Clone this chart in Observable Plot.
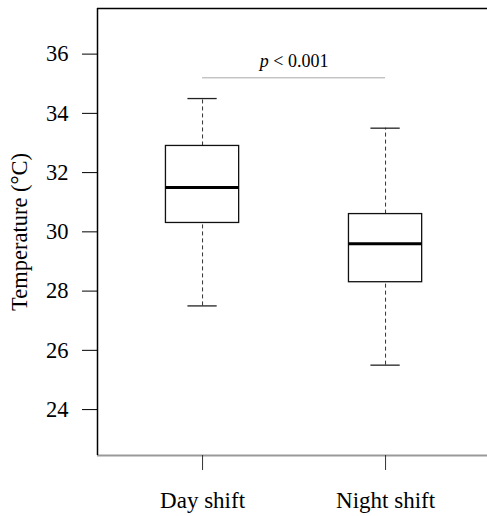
<!DOCTYPE html>
<html>
<head>
<meta charset="utf-8">
<script src="https://cdn.jsdelivr.net/npm/d3@7"></script>
<script src="https://cdn.jsdelivr.net/npm/@observablehq/plot@0.6"></script>
<style>
  html, body { margin: 0; padding: 0; background: #fff; }
  svg { display: block; }
  svg text { font-family: "Liberation Serif", "Times New Roman", Times, serif !important; }
</style>
</head>
<body>
<div id="chart"></div>
<script>
// Data
const categories = ["Day shift", "Night shift"];
const whiskerLow  = [27.5, 25.5];
const q1          = [30.3, 28.3];
const median      = [31.5, 29.6];
const q3          = [32.9, 30.6];
const whiskerHigh = [34.5, 33.5];
const yTicks = [24, 26, 28, 30, 32, 34, 36];
const yDomain = [22.45, 37.54];
const xDomain = [0.426, 2.557];
const pLabel = "p < 0.001";
const pLineY = 35.2;
const yLabel = "Temperature (°C)";

const data = categories.map((c, k) => ({
  cat: c, i: k + 1,
  lo: whiskerLow[k], q1: q1[k], med: median[k], q3: q3[k], hi: whiskerHigh[k]
}));

const boxHalf = 0.2, capHalf = 0.08;
const font = "Liberation Serif";

const chart = Plot.plot({
  width: 487,
  height: 516,
  marginLeft: 97,
  marginRight: 0,
  marginTop: 8,
  marginBottom: 61,
  style: "font-family: 'Liberation Serif', serif; font-size: 23px; background: #fff; color: #000;",
  x: { domain: xDomain, axis: null },
  y: { domain: yDomain, axis: null },
  marks: [
    // frame lines (top, bottom, left)
    Plot.ruleY([yDomain[1]], { stroke: "#000", strokeWidth: 1.5 }),
    Plot.ruleY([yDomain[0]], { stroke: "#999", strokeWidth: 2 }),
    Plot.ruleX([xDomain[0]], { stroke: "#000", strokeWidth: 1.5 }),
    // whiskers
    Plot.ruleX(data, { x: "i", y1: "q3", y2: "hi", stroke: "#333", strokeWidth: 1, strokeDasharray: "4,3" }),
    Plot.ruleX(data, { x: "i", y1: "lo", y2: "q1", stroke: "#333", strokeWidth: 1, strokeDasharray: "4,3" }),
    // caps
    Plot.ruleY(data, { y: "hi", x1: d => d.i - capHalf, x2: d => d.i + capHalf, stroke: "#222", strokeWidth: 1.3 }),
    Plot.ruleY(data, { y: "lo", x1: d => d.i - capHalf, x2: d => d.i + capHalf, stroke: "#222", strokeWidth: 1.3 }),
    // boxes
    Plot.rect(data, { x1: d => d.i - boxHalf, x2: d => d.i + boxHalf, y1: "q1", y2: "q3", fill: "#fff", stroke: "#111", strokeWidth: 1.3 }),
    // medians
    Plot.ruleY(data, { y: "med", x1: d => d.i - boxHalf, x2: d => d.i + boxHalf, stroke: "#000", strokeWidth: 3 }),
    // significance line and label
    Plot.ruleY([pLineY], { x1: 1, x2: 2, stroke: "#aaa", strokeWidth: 1 }),
    Plot.text([pLabel], { x: 1.5, y: pLineY, text: d => d, dy: -17, fontSize: 18, fontFamily: font, textAnchor: "middle", fill: "#000", className: "plabel" }),
    // axes
    Plot.axisY({
      ticks: yTicks, tickSize: 15, tickPadding: 14, fontSize: 22.5, fontFamily: font,
      label: yLabel, labelAnchor: "center", labelOffset: 86, labelArrow: "none", stroke: "#000"
    }),
    Plot.axisX({
      ticks: [1, 2], tickFormat: i => categories[i - 1], tickSize: 15, tickPadding: 21, fontSize: 23, fontFamily: font,
      label: null, stroke: "#333"
    })
  ]
});

// italic "p" in the significance label (keeps it as real text)
const t = chart.querySelector(".plabel text");
if (t) {
  t.textContent = "";
  const ns = "http://www.w3.org/2000/svg";
  const a = document.createElementNS(ns, "tspan");
  a.setAttribute("font-style", "italic");
  a.textContent = pLabel.slice(0, 1);
  const b = document.createElementNS(ns, "tspan");
  b.textContent = pLabel.slice(1);
  t.appendChild(a); t.appendChild(b);
}

document.getElementById("chart").appendChild(chart);
</script>
</body>
</html>
